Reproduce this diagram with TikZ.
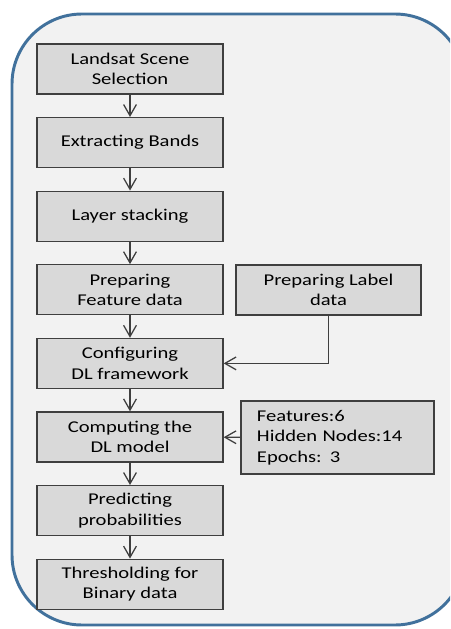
\documentclass[tikz,border=0pt]{standalone}
\usepackage{fontspec}
\setmainfont{Carlito}[FakeStretch=1.25]
\usetikzlibrary{arrows.meta}
\definecolor{panelblue}{HTML}{41719C}
\definecolor{panelfill}{HTML}{F2F2F2}
\definecolor{boxfill}{HTML}{D9D9D9}
\definecolor{edgegray}{HTML}{3F3F3F}
\begin{document}
\begin{tikzpicture}[
  x=0.025cm, y=-0.025cm,
  stepbox/.style={rectangle, draw=edgegray, line width=0.9pt, fill=boxfill,
                  minimum height=1.25cm, minimum width=#1, align=center,
                  inner sep=0pt, font=\fontsize{11.7}{14.6}\selectfont},
  stepbox/.default={4.65cm},
  arr/.style={-{Straight Barb[length=2.8mm, width=3.2mm]}, line width=0.9pt, draw=edgegray}
]
  \clip (0,0) rectangle (450,629);
  % Panel
  \draw[line width=2.1pt, draw=panelblue, fill=panelfill, rounded corners=1.75cm]
    (12,14) rectangle (465,625);

  % Main chain
  \node[stepbox] (scene) at (130, 69)    {Landsat Scene\\Selection};
  \node[stepbox] (bands) at (130, 142.6) {Extracting Bands};
  \node[stepbox] (stack) at (130, 216.2) {Layer stacking};
  \node[stepbox] (feat)  at (130, 289.8) {Preparing\\Feature data};
  \node[stepbox] (conf)  at (130, 363.4) {Configuring\\DL framework};
  \node[stepbox] (comp)  at (130, 437)   {Computing the\\DL model};
  \node[stepbox] (pred)  at (130, 510.6) {Predicting\\probabilities};
  \node[stepbox] (thr)   at (130, 584.2) {Thresholding for\\Binary data};

  \draw[arr] (scene) -- (bands);
  \draw[arr] (bands) -- (stack);
  \draw[arr] (stack) -- (feat);
  \draw[arr] (feat) -- (conf);
  \draw[arr] (conf) -- (comp);
  \draw[arr] (comp) -- (pred);
  \draw[arr] (pred) -- (thr);

  % Label data
  \node[stepbox=4.625cm] (label) at (328.5, 290) {Preparing Label\\data};
  \draw[arr] (label.south) |- (conf.east);

  % Parameters
  \node[stepbox=4.825cm, minimum height=1.825cm, text width=4.025cm, align=left,
        inner xsep=0.4cm] (param) at (337.5, 437.5)
        {Features:6\\Hidden Nodes:14\\Epochs: 3};
  \draw[arr] (param) -- (comp);
\end{tikzpicture}
\end{document}
